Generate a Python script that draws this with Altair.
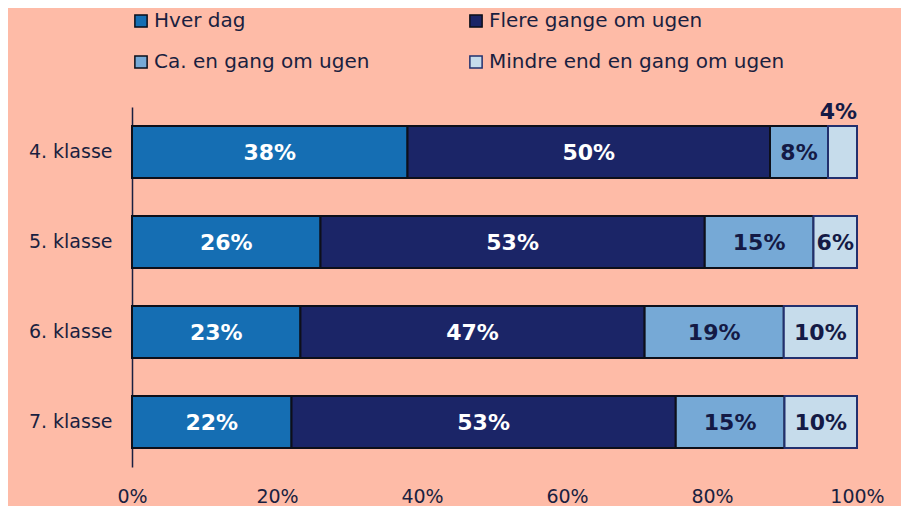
import altair as alt
import pandas as pd

classes = ["4. klasse", "5. klasse", "6. klasse", "7. klasse"]
categories = ["Hver dag", "Flere gange om ugen", "Ca. en gang om ugen", "Mindre end en gang om ugen"]
hver_dag = [38, 26, 23, 22]
flere_gange = [50, 53, 47, 53]
ca_en_gang = [8, 15, 19, 15]
mindre_end = [4, 6, 10, 10]

fill_colors = ["#156EB3", "#1B2567", "#76A9D6", "#C6DCEB"]
stroke_colors = ["#0d0f1a", "#0d0f1a", "#0d0f1a", "#22306e"]
text_colors = ["white", "white", "#141a45", "#141a45"]
NAVY = "#1a1f40"
FONT = "DejaVu Sans"

rows = []
for i, k in enumerate(classes):
    for j, (cat, vals) in enumerate(zip(categories, [hver_dag, flere_gange, ca_en_gang, mindre_end])):
        rows.append({"Klasse": k, "Kategori": cat, "value": vals[i], "order": j,
                     "label": f"{vals[i]}%", "tcolor": text_colors[j]})
df = pd.DataFrame(rows)

base = alt.Chart(df).transform_stack(
    stack="value", groupby=["Klasse"], as_=["x0", "x1"], offset="normalize",
    sort=[alt.SortField("order", order="ascending")]
).transform_calculate(mid="(datum.x0 + datum.x1) / 2")

yenc = alt.Y("Klasse:N", sort=classes,
             scale=alt.Scale(paddingInner=0.42, paddingOuter=0.21),
             axis=alt.Axis(title=None, ticks=False, domainColor=NAVY, domainWidth=1.5,
                           labelFontSize=19, labelColor=NAVY, labelPadding=20, labelFont=FONT))

bars = base.mark_bar(strokeWidth=2).encode(
    y=yenc,
    x=alt.X("x0:Q", scale=alt.Scale(domain=[0, 1], nice=False),
            axis=alt.Axis(title=None, format=".0%", values=[0, 0.2, 0.4, 0.6, 0.8, 1.0],
                          grid=False, ticks=False, domain=False, labelFontSize=19,
                          labelColor=NAVY, labelPadding=20, labelFont=FONT,
                          labelFlush=False)),
    x2="x1:Q",
    fill=alt.Fill("Kategori:N", sort=categories,
                  scale=alt.Scale(domain=categories, range=fill_colors), title=None),
    stroke=alt.Stroke("Kategori:N", sort=categories,
                      scale=alt.Scale(domain=categories, range=stroke_colors), title=None),
)

inner = base.transform_filter("datum.value >= 5").mark_text(
    fontWeight="bold", fontSize=22, font=FONT, dy=1
).encode(
    y=alt.Y("Klasse:N", sort=classes),
    x=alt.X("mid:Q"),
    text="label:N",
    color=alt.Color("tcolor:N", scale=None),
)

outer = base.transform_filter("datum.value < 5").mark_text(
    fontWeight="bold", fontSize=22, font=FONT, align="right", dy=-40
).encode(
    y=alt.Y("Klasse:N", sort=classes),
    x=alt.X("x1:Q"),
    text="label:N",
    color=alt.Color("tcolor:N", scale=None),
)

chart = alt.layer(bars, inner, outer).properties(
    width=725, height=360,
    autosize=alt.AutoSizeParams(type="none"),
    padding={"left": 124, "top": 99, "right": 44, "bottom": 40},
    background="#FEBBA7",
).configure_view(stroke=None).configure_legend(
    orient="none", legendX=-1, legendY=-96, columns=2, columnPadding=96,
    direction="horizontal",
    rowPadding=21, symbolType="square", symbolSize=150, symbolStrokeWidth=1.5,
    labelFontSize=20, labelColor=NAVY, labelFont=FONT, labelLimit=400,
    symbolOffset=0, padding=0, labelOffset=3,
)

chart.save("out.html", embed_options={"renderer": "svg", "actions": False})
